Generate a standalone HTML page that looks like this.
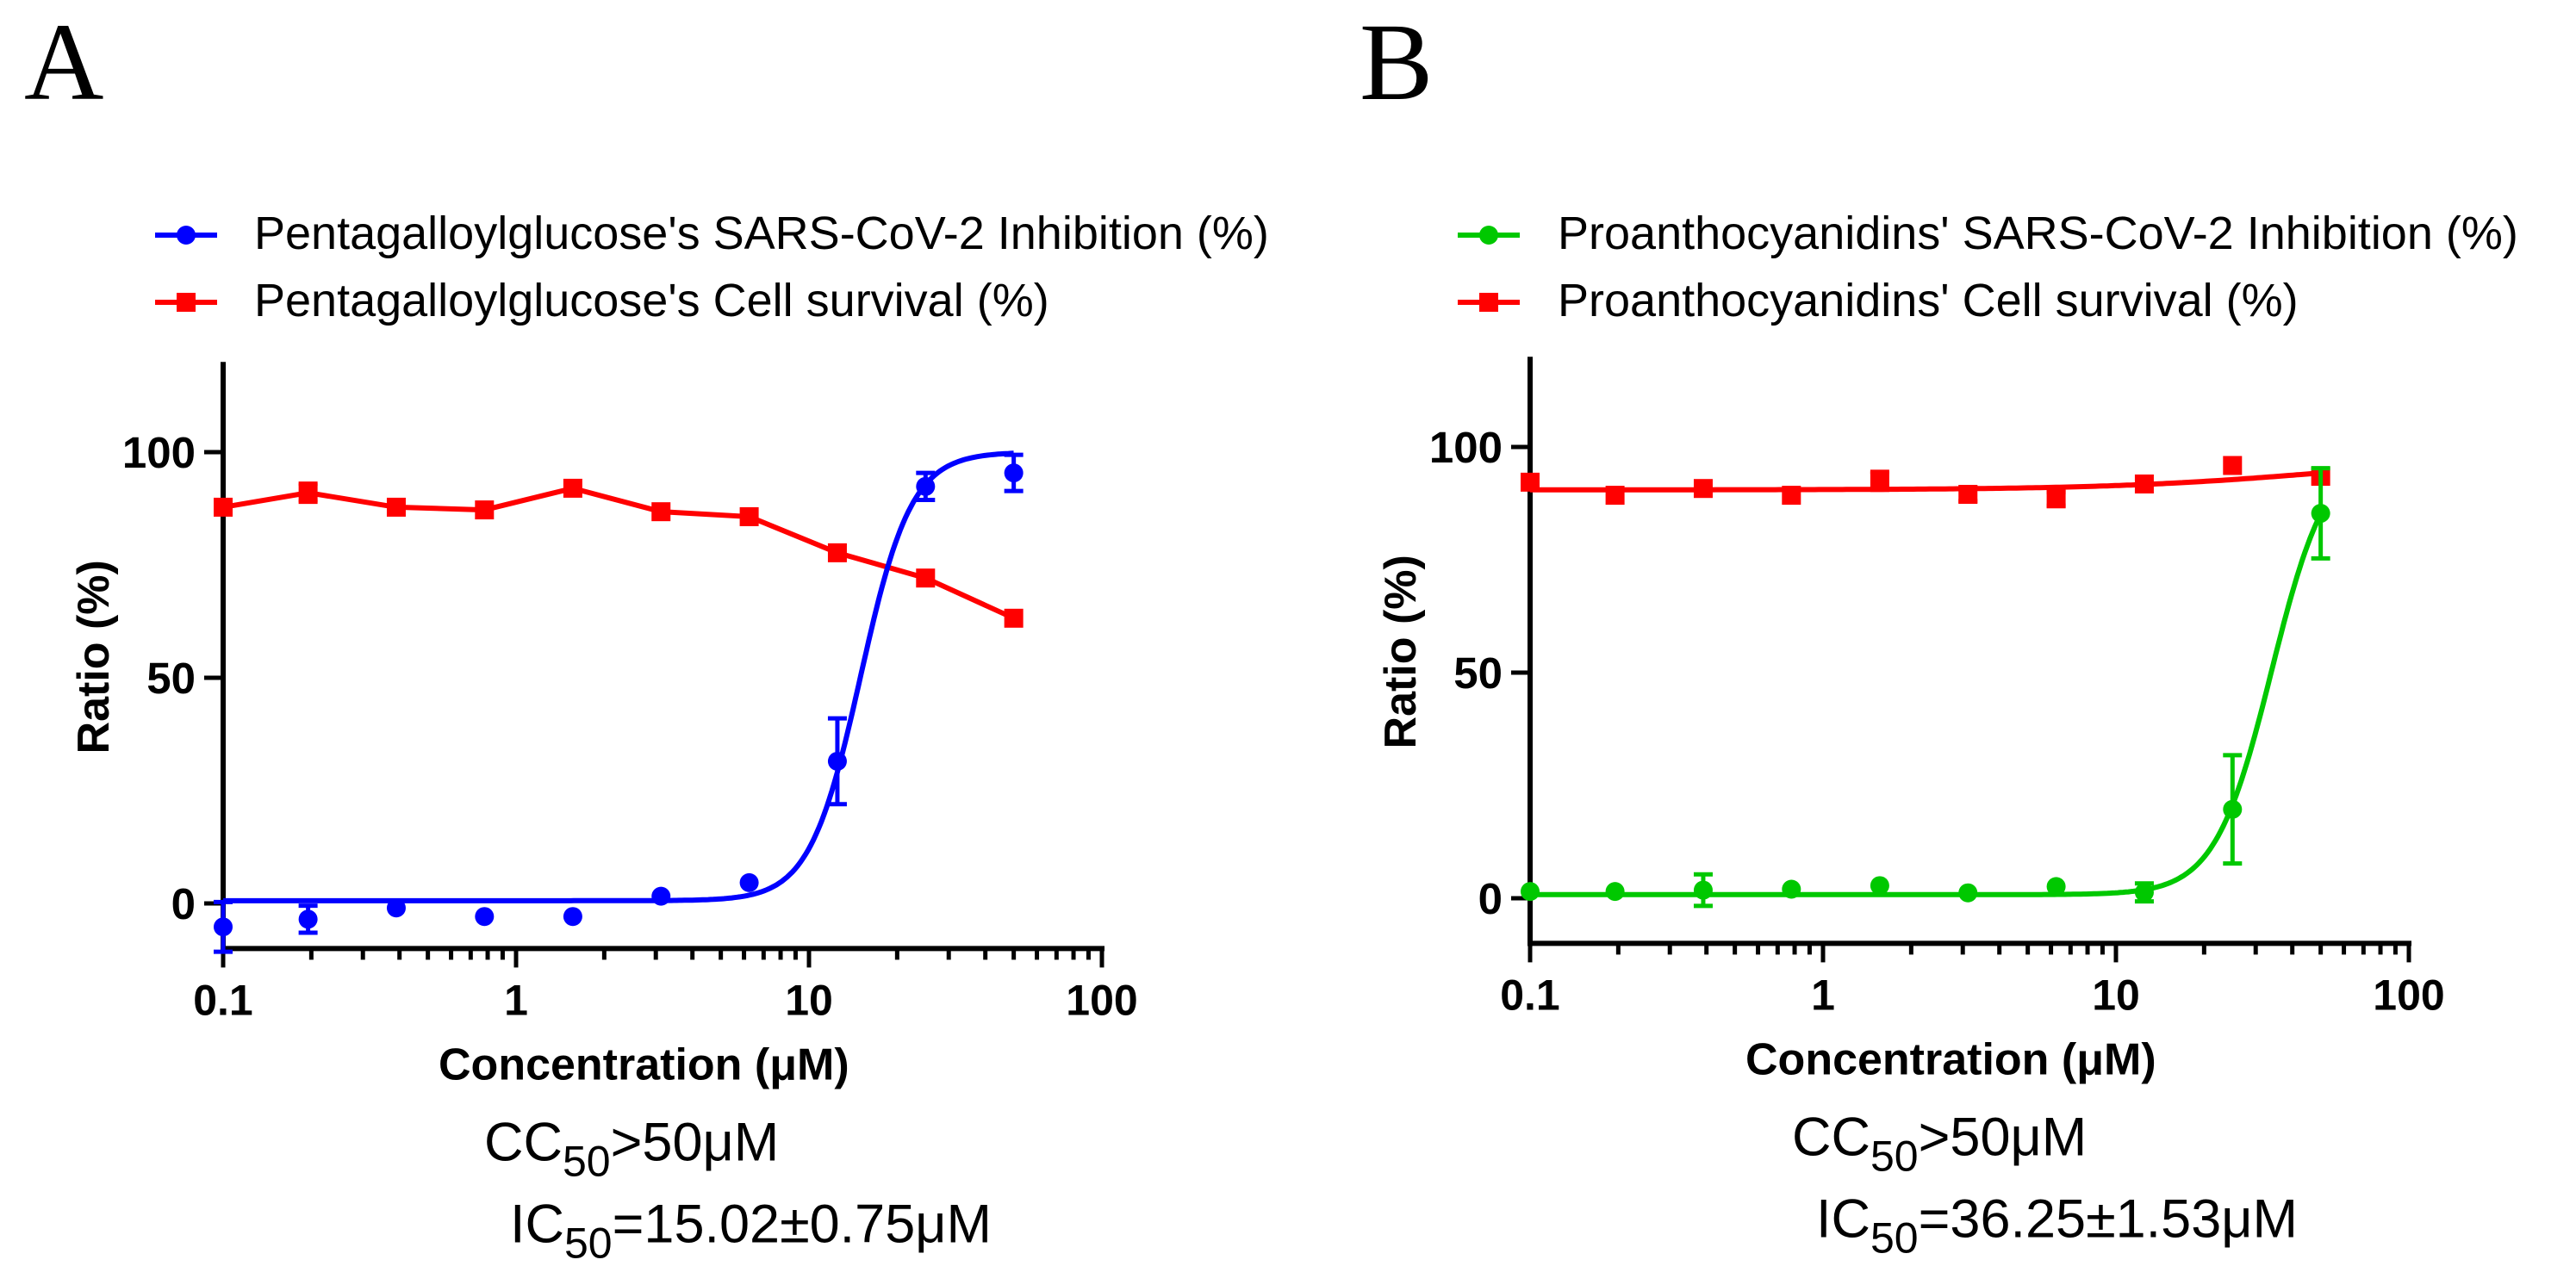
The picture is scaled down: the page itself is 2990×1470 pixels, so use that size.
<!DOCTYPE html>
<html><head><meta charset="utf-8"><style>
html,body{margin:0;padding:0;background:#fff;}
svg{display:block;}
text{font-family:"Liberation Sans",Arial,sans-serif;}
</style></head><body>
<svg id="fig" width="2990" height="1470" viewBox="0 0 2990 1470" xmlns="http://www.w3.org/2000/svg">
<text x="28" y="115" style="font-family:'Liberation Serif',serif" font-size="128">A</text>
<text x="1578" y="115" style="font-family:'Liberation Serif',serif" font-size="128">B</text>
</svg>
<script>
// ---- data ----
const concA = [0.1,0.195,0.39,0.78,1.5625,3.125,6.25,12.5,25,50];
const inhibA = [-5.2,-3.5,-1,-2.9,-2.9,1.6,4.6,31.5,92.4,95.4];
const inhibErrA = [5.5,3,0,0,0,0,0,9.5,3,4];
const survA = [87.8,91,87.8,87.2,92,86.8,85.7,77.7,72.1,63.2];
const survErrA = [0,2,0,0,0,0,0,0,0,0];
const concB = [0.1,0.195,0.39,0.78,1.5625,3.125,6.25,12.5,25,50];
const inhibB = [1.5,1.5,1.8,2,2.8,1.2,2.6,1.3,19.7,85.3];
const inhibErrB = [0,0,3.5,0,0,0,0,2,12,10];
const survB = [92.2,89.3,90.8,89.3,92.5,89.5,88.5,91.8,95.9,93.5];
const survErrB = [0,0,0,0,2,1.5,1.5,0,0,0];
const fitInhibA = {bottom:0.6, top:100, ic50:15, hill:5};
const fitInhibB = {bottom:0.8, top:100, ic50:34, hill:4.5};
const fitSurvB = {bottom:90.5, top:98, ic50:50, hill:1.2};
const xTickLabels = ["0.1","1","10","100"];
const xTickValues = [0.1,1,10,100];
const yTickValues = [0,50,100];

const NS = "http://www.w3.org/2000/svg";
const svg = document.getElementById('fig');
function el(tag, attrs, parent){
  const e = document.createElementNS(NS, tag);
  for (const k in attrs) e.setAttribute(k, attrs[k]);
  (parent||svg).appendChild(e);
  return e;
}
function hill(p, x){ return p.bottom + (p.top-p.bottom)/(1+Math.pow(p.ic50/x, p.hill)); }

function panel(cfg){
  const g = el('g', {});
  
  
  const X = v => cfg.x0 + Math.log10(v/0.1)*cfg.dec;
  const Y = v => cfg.y0 - v*cfg.sy;
  const yTop = Y(120), yBot = Y(-10), xEnd = X(100);
  const ya = el('line', {x1:cfg.x0, y1:yTop, x2:cfg.x0, y2:yBot+3, stroke:'#000','stroke-width':6}, g);
  
  
  const xa = el('line', {x1:cfg.x0-3, y1:yBot, x2:xEnd+3, y2:yBot, stroke:'#000','stroke-width':6}, g);
  
  
  for (let d=0; d<3; d++){
    for (let m=1; m<=9; m++){
      const v = 0.1*Math.pow(10,d)*m;
      const t = el('line', {x1:X(v), y1:yBot, x2:X(v), y2:yBot+(m===1?22:13), stroke:'#000','stroke-width':5}, g);
      
      
    }
  }
  const t100 = el('line', {x1:xEnd, y1:yBot, x2:xEnd, y2:yBot+22, stroke:'#000','stroke-width':5}, g);
  
  
  xTickValues.forEach((v,i)=>{
    const tl = el('text', {x:X(v), y:yBot+77, 'font-size':50, 'font-weight':'bold', 'text-anchor':'middle'}, g);
    tl.textContent = xTickLabels[i];
    
    
  });
  yTickValues.forEach(v=>{
    const t = el('line', {x1:cfg.x0-22, y1:Y(v), x2:cfg.x0, y2:Y(v), stroke:'#000','stroke-width':5}, g);
    
    
    const tl = el('text', {x:cfg.x0-32, y:Y(v)+18, 'font-size':51, 'font-weight':'bold', 'text-anchor':'end'}, g);
    tl.textContent = String(v);
    
    
  });
  const yt = el('text', {x:0, y:0, 'font-size':52, 'font-weight':'bold', 'text-anchor':'middle', transform:`translate(${cfg.x0-133},${(yTop+yBot)/2+2}) rotate(-90)`}, g);
  yt.textContent = 'Ratio (%)';
  
  
  const xt = el('text', {x:cfg.x0+250, y:yBot+152, 'font-size':52, 'font-weight':'bold'}, g);
  xt.textContent = 'Concentration (\u03bcM)';
  
  
  const cc = el('text', {x:cfg.ccX, y:yBot+246, 'font-size':63}, g);
  
  
  cc.innerHTML = 'CC<tspan dy="18" font-size="50">50</tspan><tspan dy="-18">&gt;50\u03bcM</tspan>';
  const ic = el('text', {x:cfg.icX, y:yBot+341, 'font-size':63}, g);
  
  
  ic.innerHTML = 'IC<tspan dy="18" font-size="50">50</tspan><tspan dy="-18">' + cfg.icText + '</tspan>';

  const sc = '#ff0000';
  if (cfg.survFit){
    let d='';
    for (let i=0;i<=200;i++){ const lx=Math.log10(0.1)+i*(Math.log10(50)-Math.log10(0.1))/200; const v=Math.pow(10,lx); d+=(i?'L':'M')+X(v).toFixed(1)+','+Y(hill(cfg.survFit,v)).toFixed(1); }
    const p = el('path', {d, fill:'none', stroke:sc, 'stroke-width':6}, g);
    
    
  } else {
    const pts = cfg.conc.map((c,i)=>X(c)+','+Y(cfg.surv[i])).join(' ');
    const p = el('polyline', {points:pts, fill:'none', stroke:sc, 'stroke-width':6}, g);
    
    
  }
  cfg.conc.forEach((c,i)=>{
    const cx=X(c), cy=Y(cfg.surv[i]), e=cfg.survErr[i];
    if (e>0){
      const eb = el('path', {d:`M${cx},${Y(cfg.surv[i]+e)}V${Y(cfg.surv[i]-e)}M${cx-11},${Y(cfg.surv[i]+e)}h22M${cx-11},${Y(cfg.surv[i]-e)}h22`, stroke:sc, 'stroke-width':5, fill:'none'}, g);
      
      
    }
    const m = el('rect', {x:cx-11, y:cy-11, width:22, height:22, fill:sc}, g);
    
    
  });
  const ic2 = cfg.color;
  let d='';
  for (let i=0;i<=300;i++){ const lx=Math.log10(0.1)+i*(Math.log10(50)-Math.log10(0.1))/300; const v=Math.pow(10,lx); d+=(i?'L':'M')+X(v).toFixed(1)+','+Y(hill(cfg.inhFit,v)).toFixed(1); }
  const p2 = el('path', {d, fill:'none', stroke:ic2, 'stroke-width':6}, g);
  
  
  cfg.conc.forEach((c,i)=>{
    const cx=X(c), cy=Y(cfg.inh[i]), e=cfg.inhErr[i];
    if (e>0){
      const eb = el('path', {d:`M${cx},${Y(cfg.inh[i]+e)}V${Y(cfg.inh[i]-e)}M${cx-11},${Y(cfg.inh[i]+e)}h22M${cx-11},${Y(cfg.inh[i]-e)}h22`, stroke:ic2, 'stroke-width':5, fill:'none'}, g);
      
      
    }
    const m = el('circle', {cx, cy, r:11, fill:ic2}, g);
    
    
  });
  const lg = el('g', {}, g);
  
  
  const rows = [{y:273, c:ic2, circ:true, t:cfg.leg1},{y:351, c:sc, circ:false, t:cfg.leg2}];
  rows.forEach(r=>{
    const en = el('g', {}, lg);
    
    
    el('line', {x1:cfg.legX, y1:r.y, x2:cfg.legX+72, y2:r.y, stroke:r.c, 'stroke-width':6}, en);
    if (r.circ) el('circle', {cx:cfg.legX+36, cy:r.y, r:11, fill:r.c}, en);
    else el('rect', {x:cfg.legX+25, y:r.y-11, width:22, height:22, fill:r.c}, en);
    const tx = el('text', {x:cfg.legTX, y:r.y+16, 'font-size':54}, en);
    tx.textContent = r.t;
  });
}

panel({name:'panel-a', x0:259, dec:340, y0:1049, sy:5.24, conc:concA, surv:survA, survErr:survErrA, inh:inhibA, inhErr:inhibErrA, inhFit:fitInhibA, survFit:null, color:'#0000ff', ccX:562, icX:592, icText:'=15.02\u00b10.75\u03bcM', legX:180, legTX:295, leg1:"Pentagalloylglucose's SARS-CoV-2 Inhibition (%)", leg2:"Pentagalloylglucose's Cell survival (%)"});
panel({name:'panel-b', x0:1776, dec:340, y0:1043, sy:5.24, conc:concB, surv:survB, survErr:survErrB, inh:inhibB, inhErr:inhibErrB, inhFit:fitInhibB, survFit:fitSurvB, color:'#00c800', ccX:2080, icX:2108, icText:'=36.25\u00b11.53\u03bcM', legX:1692, legTX:1808, leg1:"Proanthocyanidins' SARS-CoV-2 Inhibition (%)", leg2:"Proanthocyanidins' Cell survival (%)"});
</script>
</body></html>
